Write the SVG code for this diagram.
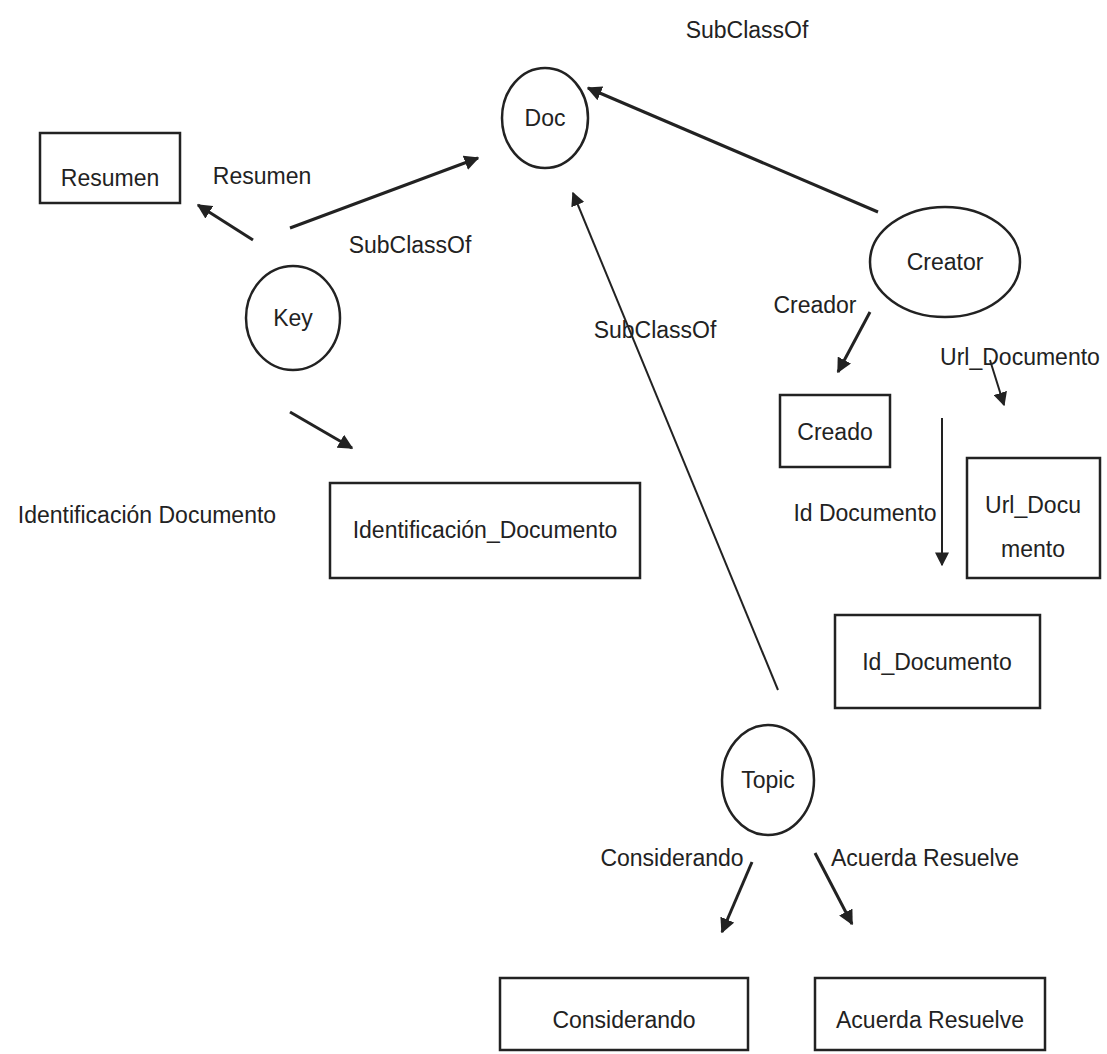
<svg xmlns="http://www.w3.org/2000/svg" width="1107" height="1054" viewBox="0 0 1107 1054">
<style>
.n{fill:#fff;stroke:#222;stroke-width:2.5}
.t{font-family:"Liberation Sans",Arial,sans-serif;font-size:23px;fill:#222;text-anchor:middle}
.c{stroke:#222;stroke-width:3;fill:none}
.thin{stroke-width:2}
</style>
<defs>
<marker id="ah" viewBox="0 0 10 10" refX="9" refY="5" markerWidth="5" markerHeight="5" orient="auto" markerUnits="strokeWidth">
<path d="M0,0 L10,5 L0,10 z" fill="#222"/>
</marker>
<marker id="ah2" viewBox="0 0 10 10" refX="9" refY="5" markerWidth="7" markerHeight="7" orient="auto" markerUnits="strokeWidth">
<path d="M0,0 L10,5 L0,10 z" fill="#222"/>
</marker>
</defs>
<rect width="1107" height="1054" fill="#fff"/>
<g id="connectors">
<line class="c" x1="253" y1="240" x2="198" y2="205" marker-end="url(#ah)"/>
<line class="c" x1="290" y1="228" x2="478" y2="158" marker-end="url(#ah)"/>
<line class="c" x1="290" y1="412" x2="352" y2="448" marker-end="url(#ah)"/>
<line class="c" x1="878" y1="212" x2="588" y2="88" marker-end="url(#ah)"/>
<line class="c" x1="870" y1="312" x2="838" y2="372" marker-end="url(#ah)"/>
<line class="c thin" x1="990" y1="360" x2="1004" y2="405" marker-end="url(#ah2)"/>
<line class="c thin" x1="942" y1="418" x2="942" y2="565" marker-end="url(#ah2)"/>
<line class="c thin" x1="778" y1="690" x2="573" y2="193" marker-end="url(#ah2)"/>
<line class="c" x1="752" y1="862" x2="722" y2="932" marker-end="url(#ah)"/>
<line class="c" x1="815" y1="853" x2="852" y2="924" marker-end="url(#ah)"/>
</g>
<g id="edge-labels">
<text class="t" x="262" y="184">Resumen</text>
<text class="t" x="410" y="253">SubClassOf</text>
<text class="t" x="147" y="523">Identificación  Documento</text>
<text class="t" x="747" y="38">SubClassOf</text>
<text class="t" x="655" y="338">SubClassOf</text>
<text class="t" x="815" y="313">Creador</text>
<text class="t" x="1020" y="365">Url_Documento</text>
<text class="t" x="865" y="521">Id  Documento</text>
<text class="t" x="672" y="866">Considerando</text>
<text class="t" x="925" y="866">Acuerda  Resuelve</text>
</g>
<g id="node-doc"><ellipse class="n" cx="545" cy="118" rx="43" ry="50"/><text class="t" x="545" y="126">Doc</text></g>
<g id="node-resumen"><rect class="n" x="40" y="133" width="140" height="70"/><text class="t" x="110" y="186">Resumen</text></g>
<g id="node-key"><ellipse class="n" cx="293" cy="318" rx="47" ry="52"/><text class="t" x="293" y="326">Key</text></g>
<g id="node-identificacion"><rect class="n" x="330" y="483" width="310" height="95"/><text class="t" x="485" y="538">Identificación_Documento</text></g>
<g id="node-creator"><ellipse class="n" cx="945" cy="262" rx="75" ry="55"/><text class="t" x="945" y="270">Creator</text></g>
<g id="node-creado"><rect class="n" x="780" y="395" width="110" height="72"/><text class="t" x="835" y="440">Creado</text></g>
<g id="node-url"><rect class="n" x="967" y="458" width="133" height="120"/><text class="t" x="1033" y="513">Url_Docu</text><text class="t" x="1033" y="557">mento</text></g>
<g id="node-id"><rect class="n" x="835" y="615" width="205" height="93"/><text class="t" x="937" y="670">Id_Documento</text></g>
<g id="node-topic"><ellipse class="n" cx="768" cy="780" rx="46" ry="55"/><text class="t" x="768" y="788">Topic</text></g>
<g id="node-considerando"><rect class="n" x="500" y="978" width="248" height="72"/><text class="t" x="624" y="1028">Considerando</text></g>
<g id="node-acuerda"><rect class="n" x="815" y="978" width="230" height="72"/><text class="t" x="930" y="1028">Acuerda  Resuelve</text></g>
</svg>
